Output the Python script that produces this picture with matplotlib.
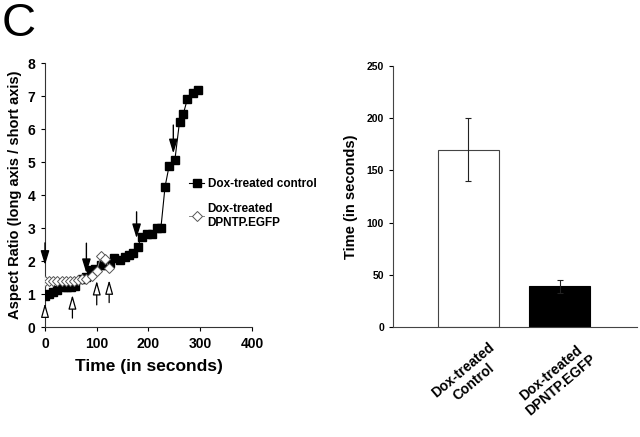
import numpy as np
import matplotlib
matplotlib.use("Agg")
import matplotlib.pyplot as plt

plt.rcParams['font.family'] = ['Liberation Sans', 'DejaVu Sans']
plt.rcParams['font.weight'] = 'bold'

# time course (left panel)
ctrl_t = [0, 8, 16, 24, 35, 42, 50, 58, 71, 79, 88, 97, 108, 116, 126, 133,
          145, 155, 163, 171, 179, 187, 197, 207, 216, 224, 232, 240, 251,
          260, 267, 275, 287, 296]
ctrl_y = [0.94, 1.0, 1.07, 1.13, 1.22, 1.2, 1.2, 1.24, 1.44, 1.52, 1.73, 1.77,
          1.88, 1.88, 1.95, 2.08, 2.03, 2.13, 2.18, 2.25, 2.43, 2.74, 2.83,
          2.83, 3.01, 3.0, 4.25, 4.89, 5.06, 6.22, 6.44, 6.9, 7.08, 7.18]
dpntp_t = [0, 8, 16, 24, 32, 40, 48, 56, 64, 72, 80, 90, 100, 108, 116, 124]
dpntp_y = [1.38, 1.38, 1.38, 1.38, 1.38, 1.39, 1.40, 1.40, 1.43, 1.46, 1.45,
           1.56, 1.70, 2.15, 2.05, 1.79]

# arrows: time, start value, tip value
down_t = [0, 80, 177, 248]
down_from = [2.55, 2.54, 3.49, 6.12]
down_to = [1.88, 1.63, 2.69, 5.26]
up_t = [0, 53, 100, 124]
up_from = [0.3, 0.27, 0.67, 0.74]
up_to = [0.72, 0.97, 1.40, 1.42]

# bar chart (right panel)
groups = ['Dox-treated\nControl', 'Dox-treated\nDPNTP.EGFP']
times = [170, 39]
errs = [30, 6]

fig = plt.figure(figsize=(6.4, 4.37), dpi=100)

# ---- left panel
ax = fig.add_axes([0.0703, 0.2517, 0.3234, 0.6041])
ax.plot(ctrl_t, ctrl_y, '-', color='black', lw=0.8, marker='s', ms=6,
        mfc='black', mec='black', label='Dox-treated control', zorder=3)
ax.plot(dpntp_t, dpntp_y, '-', color='#888888', lw=0.7, marker='D', ms=5,
        mfc='white', mec='#555555', mew=0.7,
        label='Dox-treated\nDPNTP.EGFP', zorder=4)

for t, a, b in zip(down_t, down_from, down_to):
    ax.annotate('', xy=(t, b), xytext=(t, a),
                arrowprops=dict(arrowstyle='-|>,head_length=0.85,head_width=0.26',
                                mutation_scale=10, color='black', lw=1.0,
                                shrinkA=0, shrinkB=0), zorder=5)
for t, a, b in zip(up_t, up_from, up_to):
    ax.annotate('', xy=(t, b), xytext=(t, a),
                arrowprops=dict(arrowstyle='-|>,head_length=0.85,head_width=0.24',
                                mutation_scale=10, fc='white', ec='black',
                                lw=0.9, shrinkA=0, shrinkB=0), zorder=5)

ax.set_xlim(0, 400)
ax.set_ylim(0, 8)
ax.set_xticks([0, 100, 200, 300, 400])
ax.set_yticks(range(0, 9))
ax.spines['top'].set_visible(False)
ax.spines['right'].set_visible(False)
for s in ('left', 'bottom'):
    ax.spines[s].set_linewidth(0.8)
    ax.spines[s].set_color('#333333')
ax.tick_params(direction='out', length=3, width=0.8, labelsize=10, pad=4)
ax.set_xlabel('Time (in seconds)', fontsize=12.5, fontweight='bold', labelpad=6)
ax.set_ylabel('Aspect Ratio (long axis / short axis)', fontsize=10.5,
              fontweight='bold', labelpad=4)
leg = ax.legend(loc='upper left', bbox_to_anchor=(0.695, 0.565), frameon=False,
                handlelength=1.3, handletextpad=0.3, labelspacing=1.1,
                fontsize=8.5, borderaxespad=0, borderpad=0)
for txt in leg.get_texts():
    txt.set_fontweight('bold')

# ---- right panel
bx = fig.add_axes([0.614, 0.2517, 0.381, 0.5973])
pos = np.arange(1, len(times) + 1)
bx.bar(pos, times, width=0.667, color=['white', 'black'],
       edgecolor=['#444444', 'black'], linewidth=0.8)
bx.errorbar(pos, times, yerr=errs, fmt='none', ecolor='#222222',
            elinewidth=0.8, capsize=2, capthick=0.8)
bx.set_xlim(0.175, 2.84)
bx.set_ylim(0, 250)
bx.set_yticks([0, 50, 100, 150, 200, 250])
bx.set_xticks(pos)
bx.set_xticklabels([])
for p, g in zip(pos, groups):
    bx.annotate(g, xy=(p, 0), xycoords=('data', 'axes fraction'),
                xytext=(14, -9), textcoords='offset points',
                rotation=40, ha='right', va='top', rotation_mode='anchor',
                fontsize=10, fontweight='bold', multialignment='center',
                annotation_clip=False)
bx.spines['top'].set_visible(False)
bx.spines['right'].set_visible(False)
for s in ('left', 'bottom'):
    bx.spines[s].set_linewidth(0.8)
    bx.spines[s].set_color('#444444')
bx.tick_params(axis='y', direction='out', length=3, width=0.8, labelsize=7.5)
bx.tick_params(axis='x', length=0)
bx.set_ylabel('Time (in seconds)', fontsize=10.5, fontweight='bold', labelpad=6)

fig.text(0.003, 0.995, 'C', fontsize=34, fontweight='normal', va='top', ha='left')

fig.savefig('out.png', dpi=100)
